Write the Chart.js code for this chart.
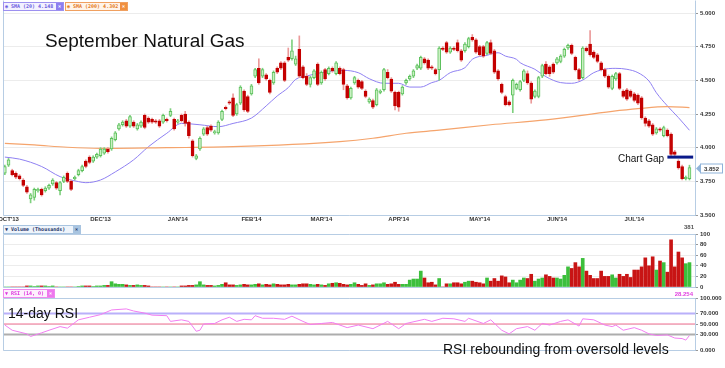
<!DOCTYPE html>
<html><head><meta charset="utf-8">
<script src="https://cdn.jsdelivr.net/npm/chart.js@4.4.1/dist/chart.umd.min.js"></script>
<style>
html,body{margin:0;padding:0;background:#fff;}
body{width:725px;height:368px;position:relative;overflow:hidden;font-family:"Liberation Sans",Arial,sans-serif;}
canvas{position:absolute;left:0;}
.tag{position:absolute;height:7px;font:bold 5px "DejaVu Sans Mono",monospace;line-height:7px;border:1px solid;white-space:nowrap;overflow:hidden;padding-left:1px;box-sizing:content-box;}
.tag .xb{position:absolute;right:0;top:0;width:7px;height:7px;color:#fff;text-align:center;line-height:7px;}
.ann{position:absolute;white-space:nowrap;color:#111;line-height:1;font-family:"Liberation Sans",Arial,sans-serif;}
.lab{position:absolute;white-space:nowrap;font:bold 6px "Liberation Sans",Arial,sans-serif;line-height:7px;}
</style></head><body>
<canvas id="cMain" width="725" height="228" style="top:0px"></canvas>
<canvas id="cVol" width="725" height="62" style="top:228px"></canvas>
<canvas id="cRsi" width="725" height="66" style="top:290px"></canvas>

<div class="tag" style="left:3px;top:2px;width:58px;border-color:#9d90f0;background:#f3f1ff;color:#6b5ce0;">◉ SMA (20) 4.148<span class="xb" style="background:#8d7ff0">×</span></div>
<div class="tag" style="left:65px;top:2px;width:60px;border-color:#f0a060;background:#fff4ea;color:#e47a20;">◉ SMA (200) 4.302<span class="xb" style="background:#f09040">×</span></div>
<div class="tag" style="left:3px;top:225px;width:75px;border-color:#a8c4e0;background:#eef4fb;color:#223366;">▼ Volume (Thousands)<span class="xb" style="background:#a8c4e0;color:#223366">×</span></div>
<div class="tag" style="left:3px;top:289px;width:49px;border-color:#ee88ee;background:#fdf0fd;color:#dd33dd;">▼ RSI (14, 0)<span class="xb" style="background:#ee77ee">×</span></div>
<div class="lab" style="left:684px;top:224px;color:#555;">381</div>
<div class="lab" style="left:673px;top:291px;width:20px;text-align:right;color:#e040e0;">28.254</div>

<div class="ann" style="left:45px;top:31px;font-size:19px;">September Natural Gas</div>
<div class="ann" style="left:618px;top:154px;font-size:10px;">Chart Gap</div>
<div class="ann" style="left:8px;top:306px;font-size:14px;">14-day RSI</div>
<div class="ann" style="left:443px;top:342px;font-size:14px;">RSI rebounding from oversold levels</div>

<script>
// ---------- DATA ----------
const monthLabels = ["OCT'13","DEC'13","JAN'14","FEB'14","MAR'14","APR'14","MAY'14","JUN'14","JUL'14"];
const monthIdx = [1, 26, 47, 67, 86, 107, 129, 150, 171];

const open = [3.81,3.87,3.83,3.81,3.79,3.76,3.71,3.62,3.63,3.68,3.69,3.68,3.70,3.73,3.74,3.68,3.75,3.81,3.75,3.77,
3.80,3.83,3.90,3.93,3.90,3.93,3.94,3.96,3.99,3.99,4.06,4.14,4.17,4.20,4.16,4.19,4.14,4.16,4.24,4.22,
4.21,4.20,4.20,4.19,4.21,4.24,4.21,4.19,4.24,4.25,4.19,4.05,3.92,3.99,4.10,4.15,4.16,4.11,4.11,4.21,
4.30,4.34,4.37,4.25,4.33,4.42,4.38,4.40,4.53,4.59,4.53,4.54,4.50,4.48,4.59,4.63,4.63,4.67,4.66,4.62,
4.73,4.60,4.53,4.47,4.52,4.62,4.48,4.58,4.55,4.59,4.55,4.59,4.58,4.46,4.37,4.48,4.50,4.49,4.42,4.34,
4.35,4.32,4.41,4.43,4.56,4.51,4.41,4.41,4.40,4.48,4.51,4.53,4.59,4.59,4.66,4.65,4.60,4.58,4.58,4.74,
4.78,4.71,4.74,4.78,4.72,4.72,4.75,4.82,4.80,4.75,4.75,4.70,4.78,4.72,4.57,4.47,4.38,4.34,4.39,4.44,
4.43,4.50,4.55,4.48,4.38,4.38,4.53,4.62,4.60,4.62,4.63,4.64,4.68,4.74,4.76,4.67,4.58,4.52,4.74,4.77,
4.71,4.69,4.63,4.58,4.53,4.44,4.51,4.55,4.42,4.43,4.42,4.40,4.39,4.37,4.22,4.20,4.17,4.11,4.14,4.09,
4.13,4.10,3.97,3.90,3.86,3.77,3.77];
const high = [3.87,3.92,3.84,3.82,3.80,3.77,3.72,3.66,3.70,3.70,3.70,3.71,3.73,3.77,3.75,3.75,3.79,3.82,3.76,3.79,
3.84,3.87,3.91,3.94,3.94,3.96,4.00,4.00,4.00,4.08,4.12,4.18,4.20,4.21,4.24,4.20,4.18,4.20,4.25,4.23,
4.22,4.21,4.21,4.25,4.22,4.29,4.22,4.21,4.25,4.27,4.20,4.06,3.95,4.08,4.15,4.16,4.17,4.13,4.20,4.28,
4.31,4.35,4.40,4.33,4.46,4.43,4.39,4.47,4.59,4.66,4.59,4.55,4.51,4.57,4.60,4.64,4.64,4.74,4.80,4.68,
4.83,4.61,4.55,4.53,4.58,4.63,4.57,4.59,4.60,4.60,4.64,4.60,4.59,4.47,4.45,4.53,4.51,4.50,4.43,4.37,
4.36,4.44,4.43,4.59,4.58,4.52,4.42,4.42,4.46,4.51,4.54,4.58,4.62,4.68,4.67,4.66,4.61,4.59,4.75,4.75,
4.79,4.75,4.75,4.80,4.73,4.78,4.82,4.84,4.81,4.76,4.76,4.79,4.80,4.73,4.58,4.48,4.39,4.35,4.51,4.48,
4.50,4.58,4.57,4.49,4.43,4.53,4.62,4.64,4.61,4.63,4.67,4.69,4.74,4.77,4.77,4.68,4.59,4.75,4.75,4.87,
4.72,4.70,4.64,4.59,4.54,4.54,4.56,4.56,4.43,4.44,4.43,4.41,4.40,4.38,4.23,4.21,4.18,4.15,4.15,4.16,
4.14,4.11,3.98,3.91,3.87,3.79,3.87];
const low = [3.80,3.86,3.79,3.77,3.76,3.71,3.66,3.59,3.61,3.67,3.64,3.67,3.69,3.72,3.69,3.65,3.74,3.74,3.68,3.76,
3.79,3.82,3.85,3.88,3.89,3.92,3.93,3.95,3.96,3.98,4.05,4.13,4.16,4.15,4.15,4.15,4.13,4.15,4.14,4.18,
4.18,4.18,4.15,4.18,4.19,4.23,4.13,4.18,4.19,4.16,4.07,3.93,3.91,3.98,4.09,4.09,4.12,4.10,4.10,4.20,
4.28,4.32,4.23,4.24,4.32,4.27,4.26,4.39,4.52,4.47,4.52,4.50,4.40,4.47,4.55,4.58,4.49,4.64,4.65,4.61,
4.52,4.51,4.46,4.45,4.51,4.46,4.47,4.50,4.54,4.56,4.54,4.54,4.43,4.36,4.36,4.47,4.44,4.43,4.37,4.33,
4.29,4.31,4.40,4.42,4.51,4.41,4.28,4.27,4.39,4.47,4.50,4.52,4.58,4.58,4.62,4.58,4.58,4.54,4.50,4.72,
4.70,4.70,4.72,4.71,4.64,4.71,4.74,4.79,4.70,4.68,4.67,4.69,4.69,4.55,4.50,4.40,4.31,4.31,4.26,4.43,
4.42,4.49,4.47,4.33,4.37,4.37,4.52,4.54,4.53,4.55,4.62,4.63,4.67,4.73,4.69,4.57,4.50,4.51,4.71,4.68,
4.66,4.63,4.57,4.52,4.44,4.43,4.50,4.43,4.37,4.35,4.37,4.34,4.32,4.21,4.16,4.15,4.09,4.10,4.12,4.08,
4.08,3.94,3.94,3.84,3.76,3.76,3.76];
const close = [3.86,3.91,3.80,3.78,3.77,3.72,3.67,3.65,3.69,3.69,3.65,3.70,3.72,3.76,3.70,3.74,3.78,3.75,3.69,3.78,
3.83,3.86,3.86,3.89,3.93,3.95,3.99,3.99,3.97,4.07,4.11,4.17,4.19,4.16,4.23,4.16,4.17,4.19,4.15,4.19,
4.19,4.19,4.16,4.24,4.20,4.27,4.14,4.20,4.20,4.18,4.09,3.94,3.94,4.07,4.14,4.10,4.13,4.12,4.19,4.27,
4.29,4.33,4.24,4.32,4.45,4.28,4.27,4.46,4.58,4.48,4.58,4.51,4.41,4.56,4.56,4.59,4.50,4.65,4.72,4.66,
4.53,4.52,4.47,4.52,4.57,4.47,4.56,4.51,4.59,4.57,4.63,4.55,4.47,4.37,4.44,4.52,4.45,4.44,4.38,4.36,
4.30,4.43,4.42,4.58,4.52,4.42,4.31,4.30,4.45,4.50,4.53,4.57,4.61,4.67,4.63,4.59,4.59,4.55,4.74,4.73,
4.71,4.74,4.73,4.72,4.65,4.77,4.81,4.80,4.71,4.69,4.68,4.78,4.70,4.56,4.51,4.41,4.32,4.32,4.50,4.47,
4.49,4.57,4.48,4.36,4.42,4.52,4.61,4.55,4.55,4.56,4.66,4.68,4.73,4.76,4.70,4.58,4.51,4.74,4.72,4.69,
4.67,4.64,4.58,4.53,4.45,4.53,4.55,4.44,4.38,4.36,4.38,4.35,4.33,4.22,4.18,4.16,4.10,4.14,4.13,4.15,
4.09,3.95,3.95,3.85,3.77,3.78,3.852];

const volume = [0,0,0,0,0,0,2,2,1,2,2,2,1,2,0,0,0,0,0,0,
1,2,2,2,1,2,2,3,3,10,6,5,5,4,3,3,4,3,3,2,
0,0,0,0,0,0,0,0,2,2,3,3,4,10,4,3,3,2,3,5,
8,4,4,3,4,5,4,4,5,6,4,5,4,6,5,4,4,5,4,4,
5,6,6,5,4,5,4,3,6,7,8,7,5,4,5,8,5,
3,6,3,4,6,6,8,5,6,9,5,5,5,13,15,15,30,17,8,9,
4,16,0,6,6,8,8,6,9,11,11,9,8,6,17,11,16,11,21,19,
8,13,8,13,17,16,24,11,15,17,23,20,17,17,15,22,38,35,46,38,
54,30,22,16,16,30,20,20,23,17,24,20,24,18,32,32,38,55,40,57,
32,49,46,28,89,38,66,55,44,46];

const sma20Idx = [0,4,10,15,20,22,26,30,35,39,44,48,53,58,62,67,71,74,77,79,82,86,89,92,96,99,103,107,110,113,116,118,121,125,127,131,134,136,139,140,144,147,151,154,157,160,164,166,169,172,175,177,180,183,186];
const sma20Val = [3.93,3.915,3.86,3.785,3.748,3.74,3.76,3.82,3.91,4.007,4.107,4.18,4.17,4.156,4.18,4.22,4.31,4.384,4.446,4.507,4.532,4.557,4.569,4.574,4.557,4.512,4.478,4.478,4.45,4.45,4.483,4.50,4.557,4.594,4.656,4.686,4.705,4.68,4.656,4.631,4.582,4.527,4.483,4.478,4.502,4.557,4.587,4.589,4.582,4.557,4.495,4.408,4.31,4.223,4.129];
const sma200Idx = [0,8,17,26,44,62,91,100,109,118,132,147,165,172,180,186];
const sma200Val = [4.032,4.02,4.003,3.995,4.0,4.007,4.045,4.07,4.107,4.13,4.17,4.206,4.27,4.29,4.305,4.298];

const rsiIdx = [0,2,6,7,10,12,15,17,20,23,26,29,33,35,38,40,44,45,48,50,52,53,54,57,59,61,63,65,67,68,70,73,76,78,81,83,86,89,93,96,100,104,107,109,114,116,119,122,125,126,130,132,135,137,139,142,144,146,148,151,153,156,157,160,163,165,166,168,171,173,175,177,180,182,184,185,186];
const rsiVal = [48,38,31,26,33,38,45,42,58,63,68,77,79,75,71,67,66,55,58,55,36,38,50,51,58,63,55,59,58,66,61,61,59,65,55,49,51,53,43,48,41,55,41,51,59,55,61,60,55,61,51,58,38,31,41,45,38,51,48,55,58,46,60,58,48,45,48,38,43,38,31,28,29,23,22,19,28];
const rsiLevels = [70, 50, 30];
const rsiTicks = [0, 30, 50, 70, 100];

const gapX = [180, 187];
const gapY = [3.93, 3.93];

// ---------- BUILD ----------
Chart.defaults.font.family = '"Liberation Sans", Arial, sans-serif';
const N = close.length;
const idx = close.map((_, i) => i);
const up = idx.map(i => close[i] >= open[i]);
const XMIN = -0.5, XMAX = 187.5;
const FRAME = '#b7cde4';

function framePlugin(id, sides, topOverride) {
  return { id, afterDraw(chart) {
    const {ctx, chartArea: a} = chart;
    const t = topOverride !== undefined ? topOverride : a.top;
    ctx.save(); ctx.strokeStyle = FRAME; ctx.lineWidth = 1; ctx.beginPath();
    const L = Math.round(a.left) + 0.5, R = Math.round(a.right) + 0.5, T = Math.round(t) + 0.5, B = Math.round(a.bottom) + 0.5;
    if (sides.includes('l')) { ctx.moveTo(L, T); ctx.lineTo(L, B); }
    if (sides.includes('r')) { ctx.moveTo(R, T); ctx.lineTo(R, B); }
    if (sides.includes('t')) { ctx.moveTo(L, T); ctx.lineTo(R, T); }
    if (sides.includes('b')) { ctx.moveTo(L, B); ctx.lineTo(R, B); }
    ctx.stroke(); ctx.restore();
  }};
}

const priceTag = { id: 'priceTag', afterDraw(chart) {
  const v = close[N - 1];
  const y = Math.round(chart.scales.y.getPixelForValue(v)) + 0.5;
  const x0 = chart.chartArea.right + 1;
  const ctx = chart.ctx;
  ctx.save();
  ctx.fillStyle = '#8fb3d9';
  ctx.beginPath(); ctx.moveTo(x0, y); ctx.lineTo(x0 + 4, y - 4); ctx.lineTo(x0 + 4, y + 4); ctx.closePath(); ctx.fill();
  ctx.fillStyle = '#fff'; ctx.fillRect(x0 + 4, y - 4.5, 23, 9);
  ctx.strokeStyle = '#8fb3d9'; ctx.lineWidth = 1; ctx.strokeRect(x0 + 4.5, y - 4.5, 22, 9);
  ctx.fillStyle = '#333'; ctx.font = 'bold 6px "Liberation Sans", Arial';
  ctx.textAlign = 'center'; ctx.textBaseline = 'middle';
  ctx.fillText(v.toFixed(3), x0 + 15.5, y + 0.5);
  ctx.restore();
}};

const tickFont = { size: 6, weight: 'bold' };
function rightAxis(extra) {
  return Object.assign({
    position: 'right',
    grid: { color: '#ececec', tickColor: '#999', tickLength: 3, drawTicks: true },
    border: { display: false },
    ticks: { font: tickFont, color: '#333', padding: 2 },
    afterFit: s => { s.width = 30; s.paddingTop = 0; s.paddingBottom = 0; }
  }, extra);
}
const hiddenX = { type: 'linear', min: XMIN, max: XMAX, offset: false, display: false };

// Main price chart
new Chart(document.getElementById('cMain'), {
  type: 'bar',
  data: { datasets: [
    { type: 'line', data: sma200Idx.map((x, k) => ({x, y: sma200Val[k]})), borderColor: '#f5a46c', borderWidth: 1.2, pointRadius: 0, cubicInterpolationMode: 'monotone', order: 3 },
    { type: 'line', data: sma20Idx.map((x, k) => ({x, y: sma20Val[k]})), borderColor: '#8f80f2', borderWidth: 1, pointRadius: 0, cubicInterpolationMode: 'monotone', order: 3 },
    { data: idx.map(i => ({x: i, y: [low[i], high[i]]})), backgroundColor: idx.map(i => up[i] ? '#7fd07f' : '#eb9a9a'), barThickness: 1, grouped: false, order: 2 },
    { data: idx.map(i => ({x: i, y: [open[i], close[i]]})), backgroundColor: idx.map(i => up[i] ? '#c9f0c2' : '#c40000'), borderColor: idx.map(i => up[i] ? '#5cc05c' : '#c40000'), borderWidth: 1, borderSkipped: false, barThickness: 3, minBarLength: 1, grouped: false, order: 1 },
    { type: 'line', data: gapX.map((x, k) => ({x, y: gapY[k]})), borderColor: '#0a1a8a', borderWidth: 3, pointRadius: 0, order: 0 }
  ]},
  options: {
    responsive: false, animation: false, maintainAspectRatio: false,
    layout: { padding: { left: 3, top: 13, right: 0, bottom: 0 } },
    plugins: { legend: { display: false }, tooltip: { enabled: false } },
    scales: {
      x: { type: 'linear', min: XMIN, max: XMAX, offset: false,
        afterBuildTicks: s => { s.ticks = monthIdx.map(v => ({ value: v })); },
        ticks: { callback: (v, i) => monthLabels[i], font: tickFont, color: '#333', padding: 1, maxRotation: 0, autoSkip: false },
        grid: { display: false, drawTicks: false, offset: false }, border: { display: false },
        afterFit: s => { s.height = 13; s.paddingLeft = 0; s.paddingRight = 0; } },
      y: rightAxis({ min: 3.5, max: 5.0, ticks: { stepSize: 0.25, font: tickFont, color: '#333', padding: 2, callback: v => v.toFixed(3) } })
    }
  },
  plugins: [framePlugin('frameMain', 'lrb', 0), priceTag]
});

// Volume chart
new Chart(document.getElementById('cVol'), {
  type: 'bar',
  data: { datasets: [
    { data: idx.map(i => ({x: i, y: volume[i]})), backgroundColor: idx.map(i => up[i] ? '#3cbf3c' : '#c81414'), barThickness: 3, grouped: false }
  ]},
  options: {
    responsive: false, animation: false, maintainAspectRatio: false,
    layout: { padding: { left: 3, top: 6, right: 0, bottom: 3 } },
    plugins: { legend: { display: false }, tooltip: { enabled: false } },
    scales: {
      x: hiddenX,
      y: rightAxis({ min: 0, max: 100, ticks: { stepSize: 20, font: tickFont, color: '#333', padding: 2 } })
    }
  },
  plugins: [framePlugin('frameVol', 'lrtb')]
});

// RSI chart
const levelColors = ['#b9b0fa', '#f27092', '#adadad'];
const levelWidths = [2, 1.2, 2];
new Chart(document.getElementById('cRsi'), {
  type: 'line',
  data: { datasets: rsiLevels.map((lv, k) => ({
      data: [{x: XMIN, y: lv}, {x: XMAX, y: lv}], borderColor: levelColors[k], borderWidth: levelWidths[k], pointRadius: 0, order: 2
    })).concat([
      { data: rsiIdx.map((x, k) => ({x, y: rsiVal[k]})), borderColor: '#f27ef2', borderWidth: 1, pointRadius: 0, tension: 0, order: 1 }
    ]) },
  options: {
    responsive: false, animation: false, maintainAspectRatio: false,
    layout: { padding: { left: 3, top: 8, right: 0, bottom: 6 } },
    plugins: { legend: { display: false }, tooltip: { enabled: false } },
    scales: {
      x: hiddenX,
      y: rightAxis({ min: 0, max: 100,
        afterBuildTicks: s => { s.ticks = rsiTicks.map(v => ({ value: v })); },
        ticks: { font: tickFont, color: '#333', padding: 2, callback: v => Number(v).toFixed(3) } })
    }
  },
  plugins: [framePlugin('frameRsi', 'lrtb')]
});
</script>
</body></html>
